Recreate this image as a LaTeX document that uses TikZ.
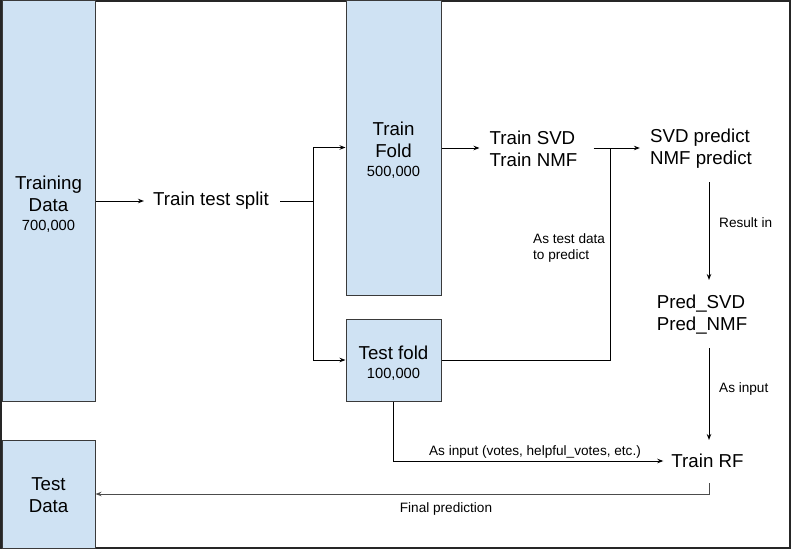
\documentclass[tikz,border=0pt]{standalone}
\usepackage{fontspec}
\setmainfont{Liberation Sans}
\usetikzlibrary{arrows.meta,calc}
\definecolor{boxfill}{HTML}{CFE2F3}
\definecolor{boxline}{HTML}{3A3A3A}
\definecolor{frameline}{HTML}{262626}
\newcommand{\bigtxt}{\fontsize{18.7}{22}\selectfont}
\newcommand{\numtxt}{\fontsize{14.7}{17}\selectfont}
\newcommand{\labtxt}{\fontsize{13.6}{16}\selectfont}
\begin{document}
\begin{tikzpicture}[x=1pt,y=-1pt,
  box/.style={draw=boxline,fill=boxfill,line width=1pt,inner sep=0pt},
  txt/.style={inner sep=0pt,align=center,font=\bigtxt},
  lab/.style={inner sep=0pt,align=left,font=\labtxt},
  conn/.style={draw=black,line width=1pt},
  arr/.style={conn,-{Stealth[length=6pt,width=4.5pt]}}]
\useasboundingbox (0,0) rectangle (791,549);
\draw[frameline,line width=2pt] (1,1) rectangle (790,548);
% boxes
\node[box,minimum width=93pt,minimum height=401pt] (td) at (48.5,200.5) {};
\node[txt] (tdtext) at (48.5,204) {Training\\Data\\[-3pt]{\numtxt 700,000}};
\node[box,minimum width=95pt,minimum height=295pt] (tf) at (393.5,147.5) {};
\node[txt] (tftext) at (393.5,150) {Train\\Fold\\[-3pt]{\numtxt 500,000}};
\node[box,minimum width=95pt,minimum height=82pt] (tef) at (393.5,360) {};
\node[txt] (teftext) at (393.5,363) {Test fold\\[-3pt]{\numtxt 100,000}};
\node[box,minimum width=93pt,minimum height=108pt] (testd) at (48.5,494) {};
\node[txt] (testdtext) at (48.5,495) {Test\\Data};
% text nodes
\node[txt] (split) at (211,201) {Train test split};
\node[txt,align=left] (trainsvd) at (533.5,148.5) {Train SVD\\Train NMF};
\node[txt,align=left] (svdpred) at (701,149) {SVD predict\\NMF predict};
\node[txt,align=left] (pred) at (702,315) {Pred\_SVD\\Pred\_NMF};
\node[txt] (rf) at (707.5,461) {Train RF};
% labels
\node[lab,anchor=west] (l1) at (533,248) {As test data\\to predict};
\node[lab,anchor=west] (l2) at (719,223) {Result in};
\node[lab,anchor=west] (l3) at (719,389) {As input};
\node[lab] (l4) at (535,452) {As input (votes, helpful\_votes, etc.)};
\node[lab] (l5) at (446,509) {Final prediction};
% coordinates
\coordinate (fork) at (313,201);
\coordinate (join) at (610,148);
% connectors
\draw[arr] (td.east |- split) -- ([xshift=-9pt]split.west);
\draw[conn] ([xshift=11pt]split.east) -- (fork);
\draw[arr] (fork) |- (tf.west);
\draw[arr] (fork) |- (tef.west);
\draw[arr] (tf.east |- join) -- ([xshift=-10pt]trainsvd.west |- join);
\draw[arr] ([xshift=16pt]trainsvd.east |- join) -- ([xshift=-10pt]svdpred.west |- join);
\draw[conn] (tef.east) -| (join);
\draw[arr] ($(svdpred.center)+(8,33)$) -- ($(pred.center)+(7,-35)$);
\draw[arr] ($(pred.center)+(7,33)$) -- ($(rf.center)+(1.5,-21)$);
\draw[arr] (tef.south) |- ([xshift=-8pt]rf.west);
\draw[arr,draw=black!70] ($(rf.center)+(1.5,22)$) |- (testd.east);
\end{tikzpicture}
\end{document}
